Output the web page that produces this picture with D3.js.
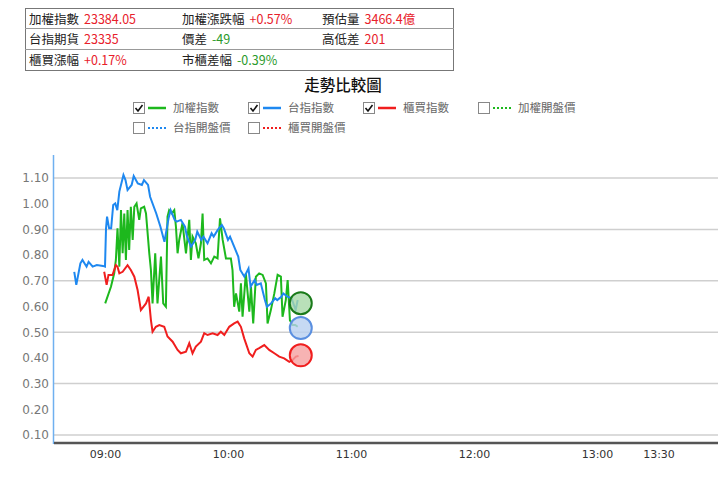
<!DOCTYPE html>
<html><head><meta charset="utf-8">
<script src="https://cdn.jsdelivr.net/npm/d3@7"></script>
<style>body{margin:0;background:#fff;font-family:"Noto Sans CJK TC","Noto Sans",sans-serif;}</style>
</head><body><svg id="c" width="720" height="485"></svg>
<script>
const tableRows = [
 [["加權指數","23384.05","#e8202a"],["加權漲跌幅","+0.57%","#e8202a"],["預估量","3466.4億","#e8202a"]],
 [["台指期貨","23335","#e8202a"],["價差","-49","#2a9a2a"],["高低差","201","#e8202a"]],
 [["櫃買漲幅","+0.17%","#e8202a"],["市櫃差幅","-0.39%","#2a9a2a"]]
];
const legendItems = [
 {name:"加權指數",color:"#1db81d",dash:false,checked:true},
 {name:"台指指數",color:"#1e88f0",dash:false,checked:true},
 {name:"櫃買指數",color:"#f01e1e",dash:false,checked:true},
 {name:"加權開盤價",color:"#1db81d",dash:true,checked:false},
 {name:"台指開盤價",color:"#1e88f0",dash:true,checked:false},
 {name:"櫃買開盤價",color:"#f01e1e",dash:true,checked:false}
];
const yTicks = [0.10,0.20,0.30,0.40,0.50,0.60,0.70,0.80,0.90,1.00,1.10];
const gridTicks = [0.10,0.30,0.50,0.70,0.90,1.10];
const xTicks = ["09:00","10:00","11:00","12:00","13:00","13:30"];
// minutes of day
const blueT=[525,526,528,529,531,532,534,536,539,540,540.5,541,542,543,544,545,546,547,549,550,551,553,554,556,558,559,561,562,565,567,569,571,572,574,575,577,579,580,582,584,585,587,588,590,592,593,595,597,598,600,601,603,605,606,608,610,611,613,614,616,618,619,621,623,624,626,627,629,631,633,634];
const blueV=[0.735,0.684,0.768,0.781,0.755,0.774,0.755,0.761,0.758,0.755,0.904,0.950,0.904,0.904,0.995,1.001,0.975,1.047,1.112,1.092,1.053,1.073,1.108,1.079,1.073,1.092,1.073,1.027,0.962,0.911,0.852,0.943,0.975,0.937,0.930,0.937,0.911,0.872,0.833,0.859,0.891,0.859,0.872,0.846,0.885,0.872,0.898,0.917,0.904,0.859,0.872,0.833,0.794,0.742,0.716,0.748,0.677,0.703,0.684,0.690,0.625,0.599,0.612,0.632,0.625,0.638,0.651,0.638,0.632,0.586,0.625];
const redT=[539.6,540.8,541.7,543.7,545.3,546.1,547,548.6,551,552.6,554.3,555.9,557.5,560,561.3,562.4,563.2,564.8,566.5,568.9,570.5,573,575.4,577,579.5,581.1,582.7,584.3,586.8,588.4,590,592.5,594.9,596.5,598.2,600.6,603,604.7,606.3,607.9,610.4,612,613.6,615.2,617.7,620.1,622.6,625,627.4,629.9,631.5,633.1,634.4];
const redV=[0.735,0.684,0.723,0.723,0.761,0.755,0.729,0.735,0.761,0.742,0.716,0.664,0.586,0.612,0.638,0.547,0.502,0.521,0.528,0.521,0.483,0.463,0.431,0.418,0.424,0.457,0.418,0.444,0.463,0.496,0.489,0.496,0.489,0.502,0.489,0.521,0.534,0.541,0.521,0.476,0.418,0.405,0.431,0.438,0.450,0.431,0.418,0.405,0.398,0.385,0.392,0.405,0.407];
const greenT=[540.1,542.9,544.5,545.3,546.1,547,547.8,548.6,549.4,550.2,551,551.8,552.6,553.5,554.3,555.4,556.7,557.5,559.1,560,561.6,562.4,563.2,564.5,565.6,567.3,568.4,569.7,570.5,571.3,572.6,573.8,574.6,575.4,576.2,577.8,579.5,581.1,581.9,582.7,584.3,585.6,586.8,587.6,588.4,590,591.7,593.3,594.9,596.1,597.4,599,601.4,602.2,603,603.9,605.5,606.3,607.1,608.7,610.4,611.2,612.3,613.6,615.2,616.9,618.5,619.3,620.9,622.6,624.2,625.8,626.6,628.2,629.1,630.2,631.5,632.8,634];
const greenV=[0.612,0.677,0.729,0.781,0.904,0.755,0.975,0.807,0.962,0.781,0.975,0.820,0.988,0.859,0.988,1.001,0.937,0.982,0.988,0.962,0.807,0.742,0.612,0.807,0.612,0.794,0.612,0.599,0.950,0.975,0.962,0.975,0.911,0.807,0.859,0.924,0.807,0.937,0.781,0.872,0.846,0.787,0.846,0.962,0.781,0.787,0.768,0.794,0.787,0.943,0.859,0.787,0.787,0.742,0.599,0.651,0.580,0.690,0.560,0.729,0.580,0.677,0.534,0.716,0.729,0.723,0.690,0.534,0.586,0.651,0.723,0.716,0.560,0.625,0.703,0.547,0.528,0.528,0.521];
const markers=[{v:0.613,fill:"#a8d8a8",stroke:"#1a7a1a"},{v:0.516,fill:"#b8cff0",stroke:"#5a8fe0"},{v:0.41,fill:"#f5a0a0",stroke:"#f01e1e"}];
const markerT=635.5;

const svg=d3.select("#c");
const F='"Noto Sans CJK TC","Noto Sans",sans-serif';
svg.append("rect").attr("x",25.5).attr("y",8.5).attr("width",428).attr("height",62).attr("fill","none").attr("stroke","#777");
[28.5,49.5].forEach(y=>svg.append("line").attr("x1",25).attr("x2",454).attr("y1",y).attr("y2",y).attr("stroke","#999"));
const colX=[29,182,322];
tableRows.forEach((r,i)=>r.forEach((c,j)=>{
 const t=svg.append("text").attr("x",colX[j]).attr("y",23.5+i*20.5).attr("font-size",12.5).attr("font-family",F);
 t.append("tspan").attr("fill","#222").text(c[0]);
 t.append("tspan").attr("fill",c[2]).attr("dx",5).text(c[1]);
}));
svg.append("text").attr("x",343).attr("y",91).attr("text-anchor","middle").attr("font-size",15.5).attr("font-weight",500).attr("font-family",F).attr("fill","#111").text("走勢比較圖");
const lpos=[[133,108],[248,108],[363,108],[478,108],[133,128],[248,128]];
legendItems.forEach((d,i)=>{
 const [x,y]=lpos[i];
 const g=svg.append("g").attr("transform",`translate(${x},${y})`);
 g.append("rect").attr("x",0.5).attr("y",-5.5).attr("width",11).attr("height",11).attr("fill","#fff").attr("stroke","#888");
 if(d.checked) g.append("path").attr("d","M2.5,0 L5,3 L9.5,-3").attr("fill","none").attr("stroke","#111").attr("stroke-width",1.6);
 g.append("line").attr("x1",15).attr("x2",33).attr("y1",0).attr("y2",0).attr("stroke",d.color).attr("stroke-width",d.dash?2:2.5).attr("stroke-dasharray",d.dash?"2,2":null);
 g.append("text").attr("x",40).attr("y",4).attr("font-size",11.5).attr("font-family",F).attr("fill","#666").text(d.name);
});
const x=d3.scaleLinear().domain([540,810]).range([105,658.5]);
const y=d3.scaleLinear().domain([0.1,1.1]).range([435,178]);
svg.append("g").selectAll("line").data(gridTicks).join("line").attr("x1",54).attr("x2",718).attr("y1",d=>y(d)).attr("y2",d=>y(d)).attr("stroke","#cfcfcf").attr("stroke-width",1.5);
const ya=svg.append("g").attr("transform","translate(53,0)").call(d3.axisLeft(y).tickValues(yTicks).tickFormat(d3.format(".2f")).tickSize(0).tickPadding(4));
ya.select(".domain").remove();
ya.selectAll("text").attr("font-size",12).attr("fill","#777").attr("font-family","DejaVu Sans");
svg.append("line").attr("x1",53.5).attr("x2",53.5).attr("y1",155).attr("y2",444).attr("stroke","#6fb0f0").attr("stroke-width",1.5);
const xa=svg.append("g").attr("transform","translate(0,443)").call(d3.axisBottom(x).tickValues([540,600,660,720,780,810]).tickFormat((d,i)=>xTicks[i]).tickSize(0).tickPadding(7));
xa.select(".domain").remove();
xa.selectAll("text").attr("font-size",11).attr("fill","#333").attr("font-family","DejaVu Sans");
svg.append("line").attr("x1",54).attr("x2",718).attr("y1",443).attr("y2",443).attr("stroke","#555").attr("stroke-width",2.5);
const line=d3.line().x(d=>x(d[0])).y(d=>y(d[1]));
[[greenT,greenV,"#1db81d"],[blueT,blueV,"#1e88f0"],[redT,redV,"#f01e1e"]].forEach(([T,V,c])=>{
 svg.append("path").attr("d",line(T.map((t,i)=>[t,V[i]]))).attr("fill","none").attr("stroke",c).attr("stroke-width",2);
});
markers.forEach(m=>svg.append("circle").attr("cx",x(markerT)).attr("cy",y(m.v)).attr("r",11).attr("fill",m.fill).attr("fill-opacity",0.8).attr("stroke",m.stroke).attr("stroke-width",2));
</script></body></html>
